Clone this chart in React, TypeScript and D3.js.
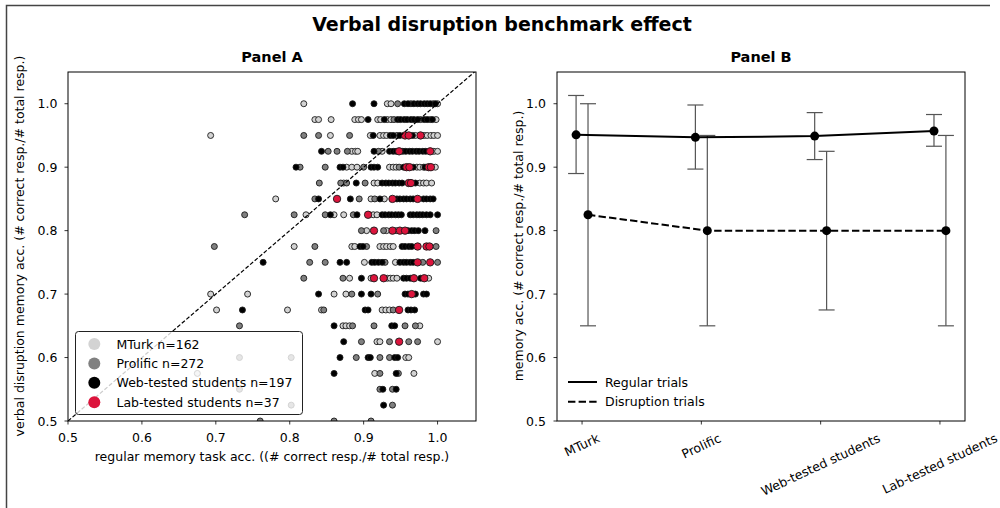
import React, { useEffect, useRef } from 'react';
import * as d3 from 'd3';

const W = 1000;
const H = 508;
const FONT = 'DejaVu Sans, sans-serif';

const groups = ['MTurk', 'Prolific', 'Web-tested students', 'Lab-tested students'];
const groupN = [162, 272, 197, 37];
const groupColors = ['#d3d3d3', '#808080', '#000000', '#dc143c'];

const axisTicks = [0.5, 0.6, 0.7, 0.8, 0.9, 1.0];

// panel A: rows of [verbal disruption acc, regular acc values]
const mturkRows: [number, number[]][] = [
  [1.0, [0.819, 0.932, 0.937, 0.994, 1.0]],
  [0.975, [0.834, 0.839, 0.856, 0.888, 0.893, 0.897, 0.919, 0.923, 0.932, 0.937, 0.99, 0.998]],
  [0.95, [0.693, 0.855, 0.909, 0.922, 0.927, 0.931, 0.97, 0.982, 0.986, 0.991, 0.995, 1.0]],
  [0.925, [0.884, 0.889, 0.892, 0.925, 0.995, 1.0]],
  [0.9, [0.877, 0.884, 0.891, 0.935, 0.94, 0.944, 0.972, 0.976, 0.981, 0.997]],
  [0.875, [0.873, 0.914, 0.919, 0.976, 0.981, 0.985, 0.992]],
  [0.85, [0.781, 0.91, 0.928]],
  [0.825, [0.822, 0.86, 0.873, 0.913, 0.918]],
  [0.8, [0.904, 0.931, 0.944]],
  [0.775, [0.806, 0.884, 0.888, 0.922, 0.927, 0.931, 0.936, 0.94]],
  [0.75, [0.901, 0.943]],
  [0.725, [0.881, 0.91, 0.932, 0.936, 0.94, 0.945, 0.988]],
  [0.7, [0.693, 0.743, 0.86, 0.876]],
  [0.675, [0.701, 0.797, 0.843, 0.925, 0.93, 0.935]],
  [0.65, [0.872, 0.876, 0.881, 0.976]],
  [0.625, [0.918, 0.922, 1.0]],
  [0.6, [0.957, 0.961]],
  [0.575, [0.675, 0.915, 0.968]],
];

const prolificRows: [number, number[]][] = [
  [1.0, [0.946, 0.964]],
  [0.975, [0.941, 0.977]],
  [0.95, [0.819, 0.839, 0.881, 0.945]],
  [0.925, [0.852, 0.864, 0.878, 0.92]],
  [0.9, [0.814, 0.848, 0.9, 0.948]],
  [0.875, [0.84, 0.869, 0.877, 0.902]],
  [0.85, [0.834, 0.894, 0.915]],
  [0.825, [0.739, 0.806, 0.848, 0.886]],
  [0.8, [0.897, 0.927, 0.998]],
  [0.775, [0.698, 0.834, 0.904, 0.998]],
  [0.75, [0.827, 0.848, 0.929, 0.98, 1.0]],
  [0.725, [0.819, 0.872]],
  [0.7, [0.884, 0.919]],
  [0.675, [0.846, 0.94]],
  [0.65, [0.732, 0.885, 0.914, 0.956, 0.97]],
  [0.625, [0.897, 0.935, 0.961, 0.973]],
  [0.6, [0.732, 0.802, 0.89, 0.922, 0.935]],
  [0.575, [0.922, 0.947]],
  [0.55, [0.732, 0.922, 0.939]],
  [0.525, [0.802, 0.939]],
  [0.5, [0.76, 0.86, 0.91]],
];

const webRows: [number, number[]][] = [
  [1.0, [0.885, 0.914, 0.955, 0.96, 0.968, 0.973, 0.977, 0.982, 0.986, 0.99, 0.997]],
  [0.975, [0.906, 0.928, 0.946, 0.95, 0.955, 0.959, 0.964, 0.968, 0.973, 0.982, 0.986, 0.993]],
  [0.95, [0.913, 0.936, 0.94, 0.949, 0.966]],
  [0.925, [0.843, 0.914, 0.935, 0.94, 0.944, 0.953, 0.957, 0.962, 0.966, 0.971, 0.975, 0.98, 0.984]],
  [0.9, [0.8085, 0.868, 0.872, 0.91, 0.914, 0.919, 0.954, 0.967, 0.983]],
  [0.875, [0.89, 0.925, 0.93, 0.934, 0.939, 0.943, 0.948, 0.952, 0.97]],
  [0.85, [0.839, 0.882, 0.922, 0.945, 0.949, 0.954, 0.958, 0.963, 0.967, 0.981, 0.985, 0.99, 0.994]],
  [0.825, [0.855, 0.891, 0.925, 0.929, 0.934, 0.938, 0.943, 0.947, 0.951, 0.963, 0.967, 0.972, 0.976, 0.98, 0.985, 0.99, 1.0]],
  [0.8, [0.96, 0.965, 0.969, 0.974, 0.983]],
  [0.775, [0.895, 0.899, 0.952, 0.956, 0.961, 0.965]],
  [0.75, [0.764, 0.868, 0.877, 0.911, 0.915, 0.92, 0.925, 0.949, 0.954, 0.958, 0.963, 0.967]],
  [0.725, [0.897, 0.954, 0.958, 0.963, 0.977]],
  [0.7, [0.839, 0.897, 0.91, 0.956, 0.96, 0.97, 0.981, 0.985]],
  [0.675, [0.736, 0.902, 0.906, 0.96, 0.964, 0.969]],
  [0.65, [0.86, 0.938, 0.942]],
  [0.625, [0.873]],
  [0.6, [0.868, 0.906, 0.909, 0.942, 0.946]],
  [0.575, [0.86, 0.944]],
  [0.55, [0.926, 0.944]],
  [0.525, [0.927]],
];

const labRows: [number, number[]][] = [
  [0.95, [0.956, 0.961, 0.977]],
  [0.925, [0.948, 0.99]],
  [0.9, [0.958, 0.962, 0.988, 0.991]],
  [0.875, [0.961, 0.964]],
  [0.85, [0.864, 0.939, 0.973]],
  [0.825, [0.906]],
  [0.8, [0.914, 0.939, 0.949, 0.956]],
  [0.775, [0.973, 0.985, 0.989]],
  [0.75, [0.973, 0.99]],
  [0.725, [0.914, 0.927, 0.968, 0.982]],
  [0.7, [0.965]],
  [0.675, [0.948]],
  [0.625, [0.948]],
];

// panel B: per group means and error bar ends
const regularMean = [0.951, 0.947, 0.949, 0.957];
const regularLo = [0.89, 0.897, 0.912, 0.933];
const regularHi = [1.013, 0.998, 0.986, 0.983];
const disruptMean = [0.825, 0.8, 0.8, 0.8];
const disruptLo = [0.65, 0.65, 0.675, 0.65];
const disruptHi = [1.0, 0.95, 0.925, 0.95];

const flatten = (rows: [number, number[]][]) =>
  rows.flatMap(([y, xs]) => xs.map((x) => [x, y] as [number, number]));

export default function App() {
  const svgRef = useRef<SVGSVGElement>(null);

  useEffect(() => {
    const svg = d3.select(svgRef.current);
    svg.selectAll('*').remove();

    // outer frame (top and left edges only)
    svg.append('path')
      .attr('d', 'M6.5,508 L6.5,5.5 L990,5.5')
      .attr('fill', 'none')
      .attr('stroke', '#444')
      .attr('stroke-width', 1.5);

    svg.append('text')
      .attr('x', 502).attr('y', 31)
      .attr('text-anchor', 'middle')
      .attr('font-size', 19).attr('font-weight', 'bold')
      .text('Verbal disruption benchmark effect');

    const yScale = d3.scaleLinear().domain([0.5, 1.05]).range([421, 72]);

    // ---------- Panel A ----------
    const xA = d3.scaleLinear().domain([0.5, 1.052]).range([68, 476]);
    const gA = svg.append('g');

    svg.append('defs').append('clipPath').attr('id', 'clipA')
      .append('rect').attr('x', 68).attr('y', 72).attr('width', 408).attr('height', 349);

    const pts = gA.append('g').attr('clip-path', 'url(#clipA)');
    [mturkRows, prolificRows, webRows, labRows].forEach((rows, i) => {
      pts.selectAll(null)
        .data(flatten(rows))
        .enter()
        .append('circle')
        .attr('cx', (d) => xA(d[0]))
        .attr('cy', (d) => yScale(d[1]))
        .attr('r', i === 3 ? 3.7 : 3)
        .attr('fill', groupColors[i])
        .attr('stroke', '#1a1a1a')
        .attr('stroke-width', 0.9);
    });

    pts.append('line')
      .attr('x1', xA(0.5)).attr('y1', yScale(0.5))
      .attr('x2', xA(1.05)).attr('y2', yScale(1.05))
      .attr('stroke', '#000').attr('stroke-width', 1.2)
      .attr('stroke-dasharray', '4,2');

    gA.append('rect')
      .attr('x', 68).attr('y', 72).attr('width', 408).attr('height', 349)
      .attr('fill', 'none').attr('stroke', '#000').attr('stroke-width', 1);

    axisTicks.forEach((t) => {
      gA.append('line')
        .attr('x1', xA(t)).attr('x2', xA(t))
        .attr('y1', 421).attr('y2', 424.5)
        .attr('stroke', '#000').attr('stroke-width', 0.8);
      gA.append('text')
        .attr('x', xA(t)).attr('y', 441.5)
        .attr('text-anchor', 'middle').attr('font-size', 12.5)
        .text(t.toFixed(1));
      gA.append('line')
        .attr('x1', 64.5).attr('x2', 68)
        .attr('y1', yScale(t)).attr('y2', yScale(t))
        .attr('stroke', '#000').attr('stroke-width', 0.8);
      gA.append('text')
        .attr('x', 57.5).attr('y', yScale(t)).attr('dy', '0.36em')
        .attr('text-anchor', 'end').attr('font-size', 12.5)
        .text(t.toFixed(1));
    });

    gA.append('text')
      .attr('x', 272).attr('y', 461)
      .attr('text-anchor', 'middle').attr('font-size', 12.5)
      .text('regular memory task acc. ((# correct resp./# total resp.)');
    gA.append('text')
      .attr('transform', 'translate(24,246) rotate(-90)')
      .attr('text-anchor', 'middle').attr('font-size', 12.5)
      .text('verbal disruption memory acc. (# correct resp./# total resp.)');
    gA.append('text')
      .attr('x', 272).attr('y', 62)
      .attr('text-anchor', 'middle').attr('font-size', 14.5).attr('font-weight', 'bold')
      .text('Panel A');

    // legend A
    const legA = gA.append('g');
    legA.append('rect')
      .attr('x', 75.5).attr('y', 331.5).attr('width', 227).attr('height', 83)
      .attr('rx', 3)
      .attr('fill', '#fff').attr('fill-opacity', 0.8)
      .attr('stroke', '#222').attr('stroke-width', 1);
    groups.forEach((g, i) => {
      const y = 344 + i * 19.4;
      legA.append('circle')
        .attr('cx', 94.3).attr('cy', y).attr('r', 6)
        .attr('fill', groupColors[i]);
      legA.append('text')
        .attr('x', 116.5).attr('y', y).attr('dy', '0.36em')
        .attr('font-size', 12.5)
        .text(`${g} n=${groupN[i]}`);
    });

    // ---------- Panel B ----------
    const xB = d3.scaleLinear().domain([-0.21, 3.21]).range([557, 965]);
    const gB = svg.append('g');
    const off = 0.05;
    const cap = 8;

    const drawErr = (k: number, lo: number, hi: number) => {
      const x = xB(k);
      gB.append('line')
        .attr('x1', x).attr('x2', x)
        .attr('y1', yScale(lo)).attr('y2', yScale(hi))
        .attr('stroke', '#555').attr('stroke-width', 1.2);
      [lo, hi].forEach((v) => {
        gB.append('line')
          .attr('x1', x - cap).attr('x2', x + cap)
          .attr('y1', yScale(v)).attr('y2', yScale(v))
          .attr('stroke', '#555').attr('stroke-width', 1.2);
      });
    };

    groups.forEach((_, i) => {
      drawErr(i - off, regularLo[i], regularHi[i]);
      drawErr(i + off, disruptLo[i], disruptHi[i]);
    });

    const lineGen = (vals: number[], o: number) =>
      d3.line<number>().x((_, i) => xB(i + o)).y((d) => yScale(d))(vals);

    gB.append('path')
      .attr('d', lineGen(regularMean, -off))
      .attr('fill', 'none').attr('stroke', '#000').attr('stroke-width', 2);
    gB.append('path')
      .attr('d', lineGen(disruptMean, off))
      .attr('fill', 'none').attr('stroke', '#000').attr('stroke-width', 2)
      .attr('stroke-dasharray', '7.4,3.2');

    [[regularMean, -off], [disruptMean, off]].forEach(([vals, o]) => {
      gB.selectAll(null)
        .data(vals as number[])
        .enter()
        .append('circle')
        .attr('cx', (_, i) => xB(i + (o as number)))
        .attr('cy', (d) => yScale(d))
        .attr('r', 4.5)
        .attr('fill', '#000');
    });

    gB.append('rect')
      .attr('x', 557).attr('y', 72).attr('width', 408).attr('height', 349)
      .attr('fill', 'none').attr('stroke', '#000').attr('stroke-width', 1);

    axisTicks.forEach((t) => {
      gB.append('line')
        .attr('x1', 553.5).attr('x2', 557)
        .attr('y1', yScale(t)).attr('y2', yScale(t))
        .attr('stroke', '#000').attr('stroke-width', 0.8);
      gB.append('text')
        .attr('x', 546).attr('y', yScale(t)).attr('dy', '0.36em')
        .attr('text-anchor', 'end').attr('font-size', 12.5)
        .text(t.toFixed(1));
    });

    const ang = (25 * Math.PI) / 180;
    groups.forEach((g, i) => {
      gB.append('line')
        .attr('x1', xB(i)).attr('x2', xB(i))
        .attr('y1', 421).attr('y2', 424.5)
        .attr('stroke', '#000').attr('stroke-width', 0.8);
      const t = gB.append('text')
        .attr('text-anchor', 'middle').attr('dy', '0.33em')
        .attr('font-size', 12.5)
        .text(g);
      const w = (t.node() as SVGTextElement).getComputedTextLength();
      const h = 12.5 * 1.15;
      const bh = w * Math.sin(ang) + h * Math.cos(ang);
      t.attr('transform', `translate(${xB(i)},${431 + bh / 2}) rotate(-25)`);
    });

    gB.append('text')
      .attr('transform', 'translate(523,246) rotate(-90)')
      .attr('text-anchor', 'middle').attr('font-size', 12.5)
      .text('memory acc. (# correct resp./# total resp.)');
    gB.append('text')
      .attr('x', 761).attr('y', 62)
      .attr('text-anchor', 'middle').attr('font-size', 14.5).attr('font-weight', 'bold')
      .text('Panel B');

    // legend B
    const legB = gB.append('g');
    [
      ['Regular trials', null],
      ['Disruption trials', '7.4,3.2'],
    ].forEach(([label, dash], i) => {
      const y = 382 + i * 19.7;
      const ln = legB.append('line')
        .attr('x1', 568).attr('x2', 597).attr('y1', y).attr('y2', y)
        .attr('stroke', '#000').attr('stroke-width', 2);
      if (dash) ln.attr('stroke-dasharray', dash);
      legB.append('text')
        .attr('x', 605).attr('y', y).attr('dy', '0.36em')
        .attr('font-size', 12.5)
        .text(label as string);
    });
  }, []);

  return (
    <svg
      ref={svgRef}
      width={W}
      height={H}
      style={{ position: 'fixed', left: 0, top: 0, background: '#fff', fontFamily: FONT }}
    />
  );
}
